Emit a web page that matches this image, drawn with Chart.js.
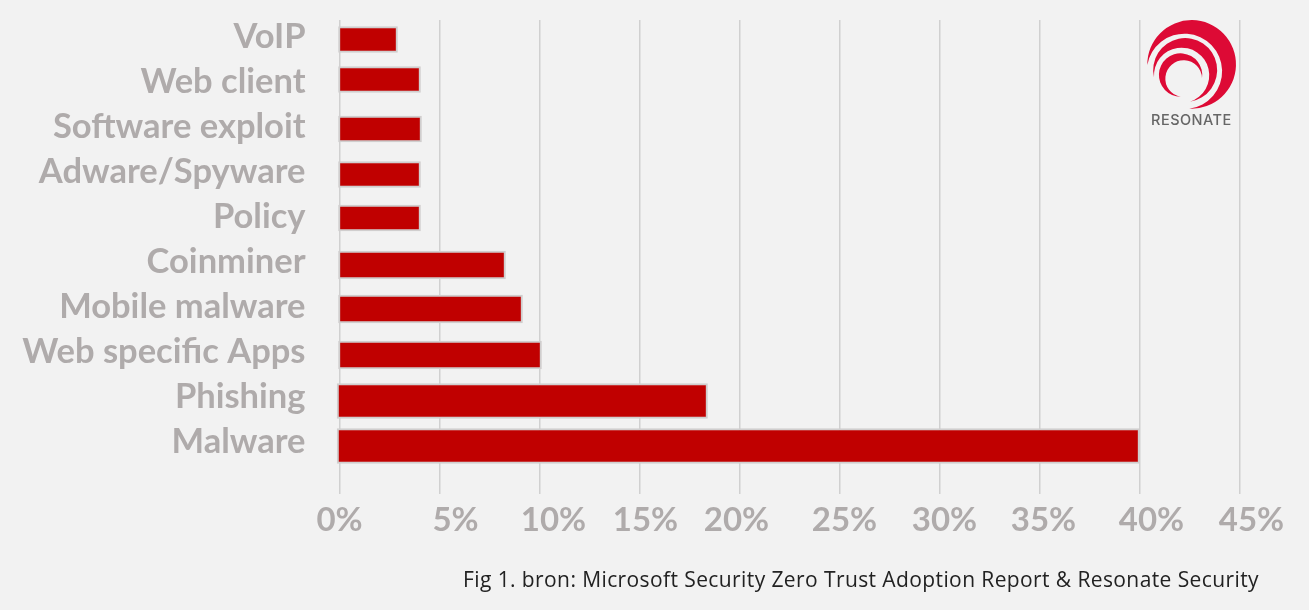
<!DOCTYPE html>
<html><head><meta charset="utf-8">
<script src="https://cdn.jsdelivr.net/npm/chart.js@4/dist/chart.umd.min.js"></script>
<style>
html,body{margin:0;padding:0;background:#f2f2f2;width:1309px;height:610px;overflow:hidden}
#wrap{position:relative;width:1309px;height:610px}
canvas{position:absolute;left:0;top:0}
#caption{position:absolute;right:50px;top:565px;font:21px "Open Sans",sans-serif;letter-spacing:.4px;color:#222;white-space:nowrap}
#logo{position:absolute;left:0;top:0}
#logotext{position:absolute;left:1151px;top:111px;font:500 14.5px Inter,sans-serif;color:#666;letter-spacing:.5px}
</style></head><body>
<div id="wrap">
<canvas id="c" width="1309" height="610"></canvas>
<svg id="logo" width="1309" height="610"><g transform="translate(1100,0) scale(.3333)" fill="#dd0a35">
<path d="M142,195 A133,133 0 1 1 268,326 A113,113 0 1 0 142,195Z"/>
<path d="M162,232 A96,96 0 1 1 270,305 A83,83 0 1 0 162,232Z"/>
<path d="M306,235 A65,65 0 1 0 242,290 A55,55 0 1 1 306,235Z"/>
</g></svg>
<div id="logotext">RESONATE</div>
<div id="caption">Fig 1. bron: Microsoft Security Zero Trust Adoption Report &amp; Resonate Security</div>
</div>
<script>
const categories = ["VoIP","Web client","Software exploit","Adware/Spyware","Policy","Coinminer","Mobile malware","Web specific Apps","Phishing","Malware"];
const shares = [2.9,4.05,4.1,4.05,4.05,8.3,9.15,10.1,18.4,40];
const tickStep = 5;
const axisMax = 45;
const pick = (a,b) => shares.map((v,i)=> i>=a && i<b ? v : null);
const barStyle = {backgroundColor:"#c00000",borderColor:"#d0cece",borderWidth:2,borderSkipped:false,grouped:false,clip:false};
const yFont = {family:"Lato",weight:"700",size:34.5};
const xFont = {family:"Lato",weight:"700",size:33};
// the reference's hand-placed tick labels and bars sit slightly off the regular grid
const xLabelNudge = [0,16,14,6,-3,5,5,4,12,12];
const barNudge = [-3,-8,-3.5,-3,-4.5,-2.5,-3.5,-2.5,-1.5,-1.5];
const nudges = {
  id:"nudges",
  beforeDraw(chart){
    if(chart.$nudged) return; chart.$nudged = true;
    chart.scales.x.getLabelItems().forEach((it,i)=>{ it.options.translation[0] += xLabelNudge[i]; });
    chart.data.datasets.forEach((d,k)=>{
      chart.getDatasetMeta(k).data.forEach((el,i)=>{ el.y += barNudge[i]; });
    });
  }
};
new Chart(document.getElementById("c"),{
  type:"bar",
  plugins:[nudges],
  data:{labels:categories,datasets:[
    {...barStyle,data:pick(0,5),barThickness:26,base:-0.05},
    {...barStyle,data:pick(5,8),barThickness:28,base:-0.05},
    {...barStyle,data:pick(8,10),barThickness:35,base:-0.12}
  ]},
  options:{
    indexAxis:"y",responsive:false,animation:false,
    layout:{padding:{top:20,right:69.5,left:0,bottom:0}},
    plugins:{legend:{display:false},title:{display:false},tooltip:{enabled:false}},
    scales:{
      x:{min:0,max:axisMax,
        afterFit(s){s.height=140;},
        grid:{color:"#d0d0d0",lineWidth:1.5,tickLength:24,drawTicks:true},
        border:{display:false},
        ticks:{stepSize:tickStep,padding:7,color:"#afabab",font:xFont,maxRotation:0,callback:v=>v+"%"}},
      y:{
        afterFit(s){s.width=339.5;s.paddingTop=0;s.paddingBottom=0;},
        grid:{display:false,drawTicks:false},
        border:{display:false},
        ticks:{padding:34,labelOffset:-5.5,color:"#afabab",font:yFont,autoSkip:false}}
    }
  }
});
</script>
</body></html>
